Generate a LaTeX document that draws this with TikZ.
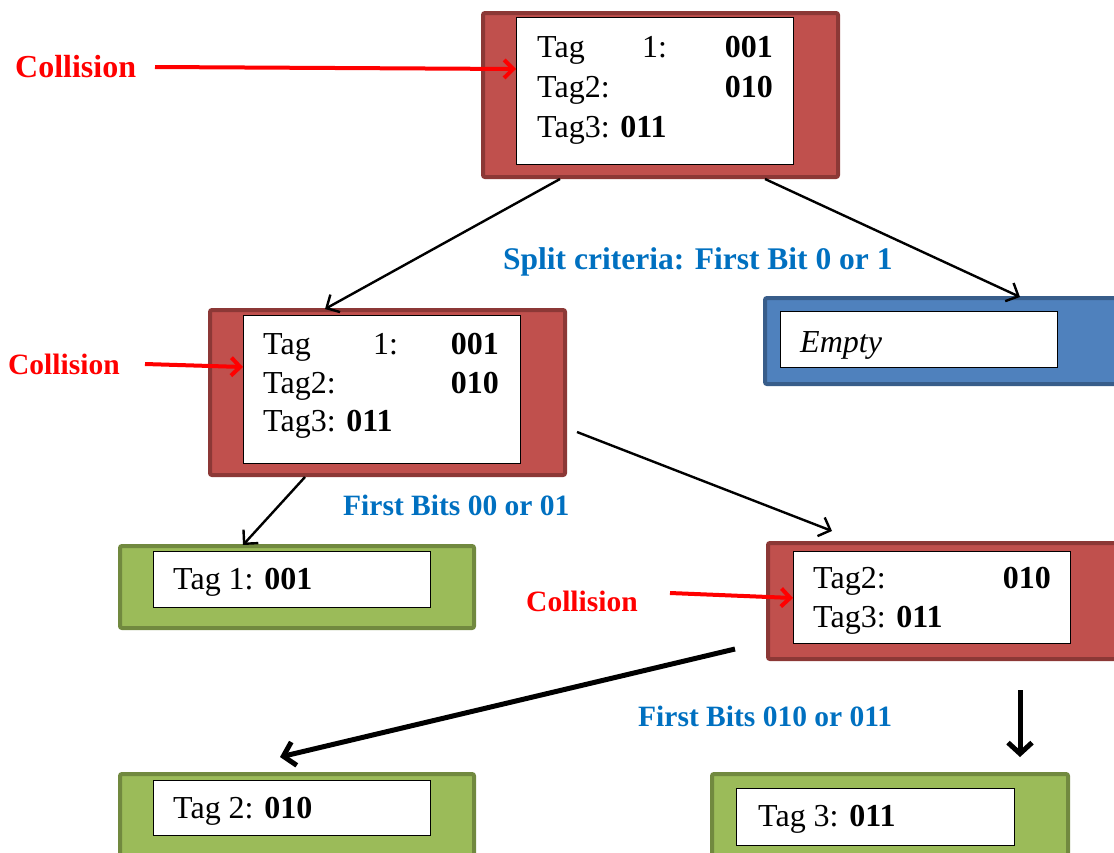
\documentclass[tikz,border=0pt]{standalone}
\usepackage{fontspec}
\setmainfont{Liberation Serif}
\usetikzlibrary{arrows.meta,calc}
\definecolor{redfill}{HTML}{C0504D}
\definecolor{redline}{HTML}{8C3836}
\definecolor{bluefill}{HTML}{4F81BD}
\definecolor{blueline}{HTML}{385D8A}
\definecolor{greenfill}{HTML}{9BBB59}
\definecolor{greenline}{HTML}{71893F}
\definecolor{labelblue}{HTML}{0070C0}
\tikzset{
  outerbox/.style={draw, line width=4pt, rounded corners=2pt, inner sep=0pt, anchor=north west},
  redbox/.style={outerbox, fill=redfill, draw=redline},
  bluebox/.style={outerbox, fill=bluefill, draw=blueline},
  greenbox/.style={outerbox, fill=greenfill, draw=greenline},
  whitebox/.style={draw=black, line width=1.1pt, fill=white, inner sep=0pt, anchor=north west},
  tagtext/.style={inner sep=0pt, font=\fontsize{32}{38}\selectfont},
  collide/.style={inner sep=0pt, anchor=west, text=red, font=\fontsize{29.5}{35}\selectfont\bfseries},
  splitlabel/.style={inner sep=0pt, anchor=west, text=labelblue, font=\fontsize{29.5}{35}\selectfont\bfseries},
  redarrow/.style={draw=red, line width=4pt, -{Straight Barb[length=9pt,width=18pt,line width=4pt]}},
  thinarrow/.style={draw=black, line width=2.4pt, -{Straight Barb[length=10pt,width=20pt,line width=2.4pt]}},
  thickarrow/.style={draw=black, line width=5pt, -{Straight Barb[length=11pt,width=24pt,line width=5pt]}}
}
\begin{document}
\begin{tikzpicture}[x=1pt,y=-1pt]
\useasboundingbox (0,0) rectangle (1114,852);
\clip (0,0) rectangle (1114,852);

% ---- boxes ----
\node[redbox, minimum width=355pt, minimum height=164pt] (top) at (481,11) {};
\node[whitebox, minimum width=277pt, minimum height=147pt] (topin) at (516,17) {};

\node[redbox, minimum width=355pt, minimum height=165pt] (mid) at (208,308) {};
\node[whitebox, minimum width=277pt, minimum height=148pt] (midin) at (243,315) {};

\node[bluebox, minimum width=380pt, minimum height=86pt] (empty) at (763,296) {};
\node[whitebox, minimum width=277pt, minimum height=56pt] (emptyin) at (780,311) {};

\node[greenbox, minimum width=354pt, minimum height=82pt] (leafA) at (118,544) {};
\node[whitebox, minimum width=277pt, minimum height=56pt] (leafAin) at (153,551) {};

\node[redbox, minimum width=380pt, minimum height=116pt] (right) at (766,541) {};
\node[whitebox, minimum width=277pt, minimum height=92pt] (rightin) at (793,551) {};

\node[greenbox, minimum width=354pt, minimum height=100pt] (leafB) at (118,772) {};
\node[whitebox, minimum width=277pt, minimum height=55pt] (leafBin) at (153,780) {};

\node[greenbox, minimum width=356pt, minimum height=100pt] (leafC) at (710,772) {};
\node[whitebox, minimum width=278pt, minimum height=57pt] (leafCin) at (736,788) {};

% ---- box contents ----
\node[tagtext, anchor=base west] (t1a) at (537,57) {Tag};
\node[tagtext, anchor=base west] (t1b) at (642,57) {1:};
\node[tagtext, anchor=base east] (t1c) at (773,57) {\bfseries 001};
\node[tagtext, anchor=base west] (t1d) at (537,97) {Tag2:};
\node[tagtext, anchor=base east] (t1e) at (773,97) {\bfseries 010};
\node[tagtext, anchor=base west] (t1f) at (537,137) {Tag3: \bfseries 011};

\node[tagtext, anchor=base west] (t2a) at (263,354) {Tag};
\node[tagtext, anchor=base west] (t2b) at (373,354) {1:};
\node[tagtext, anchor=base east] (t2c) at (499,354) {\bfseries 001};
\node[tagtext, anchor=base west] (t2d) at (263,393) {Tag2:};
\node[tagtext, anchor=base east] (t2e) at (499,393) {\bfseries 010};
\node[tagtext, anchor=base west] (t2f) at (263,431) {Tag3: \bfseries 011};

\node[tagtext, anchor=base west] (t3) at (800,352) {\itshape Empty};

\node[tagtext, anchor=base west] (t4) at (173,589) {Tag 1: \bfseries 001};

\node[tagtext, anchor=base west] (t5a) at (813,588) {Tag2:};
\node[tagtext, anchor=base east] (t5b) at (1051,588) {\bfseries 010};
\node[tagtext, anchor=base west] (t5c) at (813,627) {Tag3: \bfseries 011};

\node[tagtext, anchor=base west] (t6) at (173,818) {Tag 2: \bfseries 010};
\node[tagtext, anchor=base west] (t7) at (758,826) {Tag 3: \bfseries 011};

% ---- labels ----
\node[collide, font=\fontsize{32}{38}\selectfont\bfseries] (c1) at (15,67) {Collision};
\node[collide] (c2) at (8,364) {Collision};
\node[collide] (c3) at (526,601) {Collision};

\node[splitlabel, font=\fontsize{31.5}{37}\selectfont\bfseries] (s1) at (503,262) {Split criteria: First Bit 0 or 1};
\node[splitlabel] (s2) at (343,505) {First Bits 00 or 01};
\node[splitlabel] (s3) at (638,716) {First Bits 010 or 011};

% ---- collision pointers ----
\coordinate (c1start) at (155,67);
\coordinate (c2start) at (145,364);
\coordinate (c3start) at (670,593);
\draw[redarrow] (c1start) -- (topin.west |- 0,69);
\draw[redarrow] (c2start) -- (midin.west |- 0,367);
\draw[redarrow] (c3start) -- (rightin.west |- 0,598);

% ---- tree edges ----
\coordinate (midout) at (577,432);
\coordinate (rightin-top) at (832,531);
\coordinate (leafBtip) at (280,757);
\coordinate (leafCtip) at (1020,757);
\draw[thinarrow] ([xshift=79pt]top.south west) -- ([xshift=117pt,yshift=-1pt]mid.north west);
\draw[thinarrow] ([xshift=284pt]top.south west) -- ([xshift=257pt,yshift=-1pt]empty.north west);
\draw[thinarrow] (midout) -- (rightin-top);
\draw[thinarrow] ([xshift=97pt]mid.south west) -- ([xshift=125pt,yshift=-1pt]leafA.north west);
\draw[thickarrow] ([xshift=-31pt,yshift=12pt]right.south west) -- (leafBtip);
\draw[thickarrow] ([xshift=254pt,yshift=-29pt]right.south west) -- (leafCtip);
\end{tikzpicture}
\end{document}
